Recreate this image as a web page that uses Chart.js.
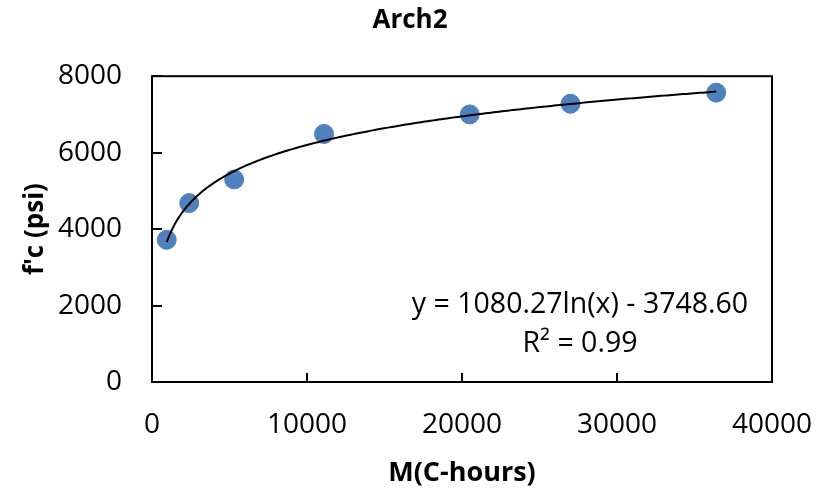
<!DOCTYPE html>
<html>
<head>
<meta charset="utf-8">
<script src="https://cdn.jsdelivr.net/npm/chart.js@4.4.1/dist/chart.umd.min.js"></script>
<style>
  html, body { margin: 0; padding: 0; background: #fff; }
  #wrap { width: 831px; height: 491px; }
</style>
</head>
<body>
<div id="wrap"><canvas id="maturityChart"></canvas></div>
<script>
// maturity (C-hours) vs compressive strength f'c (psi)
const mHours = [950, 2400, 5300, 11100, 20500, 27000, 36400];
const fcPsi = [3720, 4680, 5300, 6490, 7000, 7280, 7570];

// logarithmic fit: y = a ln(x) + b
const fitA = 1080.27;
const fitB = -3748.60;
const fitR2 = 0.99;

const xTicks = [0, 10000, 20000, 30000, 40000];
const yTicks = [0, 2000, 4000, 6000, 8000];

const FONT = "'Open Sans', 'Liberation Sans', sans-serif";

// curve through the fitted equation, over the measured range
const fitPts = [];
const x0 = mHours[0], x1 = mHours[mHours.length - 1];
for (let i = 0; i <= 200; i++) {
  const x = x0 + (x1 - x0) * i / 200;
  fitPts.push({ x: x, y: fitA * Math.log(x) + fitB });
}

const framePlugin = {
  id: 'frame',
  afterLayout(chart) {
    // nudge the title so it sits over the middle of the page
    if (chart.titleBlock) chart.titleBlock.left = 48;
  },
  afterDraw(chart) {
    const { ctx, chartArea: a, scales } = chart;
    ctx.save();
    ctx.strokeStyle = '#000';
    ctx.lineWidth = 2;
    ctx.strokeRect(a.left, a.top, a.right - a.left, a.bottom - a.top);
    // inward tick marks
    ctx.beginPath();
    yTicks.forEach(v => {
      const py = Math.round(scales.y.getPixelForValue(v));
      ctx.moveTo(a.left, py);
      ctx.lineTo(a.left + 10, py);
    });
    xTicks.forEach(v => {
      const px = Math.round(scales.x.getPixelForValue(v));
      ctx.moveTo(px, a.bottom);
      ctx.lineTo(px, a.bottom - 9);
    });
    ctx.stroke();

    // trendline equation
    ctx.fillStyle = '#000';
    ctx.font = '28.5px ' + FONT;
    ctx.textAlign = 'center';
    ctx.textBaseline = 'alphabetic';
    const cx = a.right - 192;
    const sign = fitB < 0 ? ' - ' : ' + ';
    ctx.fillText('y = ' + fitA.toFixed(2) + 'ln(x)' + sign + Math.abs(fitB).toFixed(2), cx, a.bottom - 69);
    ctx.fillText('R\u00B2 = ' + fitR2.toFixed(2), cx, a.bottom - 30);
    ctx.restore();
  }
};

new Chart(document.getElementById('maturityChart'), {
  type: 'scatter',
  data: {
    datasets: [{
      label: 'Arch2',
      data: mHours.map((x, i) => ({ x: x, y: fcPsi[i] })),
      backgroundColor: '#4F81BD',
      borderColor: '#4F81BD',
      pointRadius: 9.5,
      pointHoverRadius: 9.5,
      order: 2
    }, {
      label: 'Log fit',
      type: 'line',
      data: fitPts,
      borderColor: '#000',
      borderWidth: 2,
      pointRadius: 0,
      fill: false,
      order: 1
    }]
  },
  options: {
    responsive: true,
    maintainAspectRatio: false,
    animation: false,
    events: [],
    layout: { padding: { left: 0, right: 59, top: 0, bottom: 0 } },
    plugins: {
      legend: { display: false },
      tooltip: { enabled: false },
      title: {
        display: true,
        text: 'Arch2',
        color: '#000',
        font: { family: FONT, size: 26, weight: 'bold', lineHeight: 1.2 },
        padding: { top: 5, bottom: 40 }
      }
    },
    scales: {
      x: {
        type: 'linear',
        min: 0,
        max: 40000,
        afterFit(s) {
          s.height = 109;
          s.paddingLeft = 0;
          s.paddingRight = 0;
        },
        afterBuildTicks(s) { s.ticks = xTicks.map(v => ({ value: v })); },
        ticks: {
          color: '#000',
          padding: 26,
          maxRotation: 0,
          font: { family: FONT, size: 28 },
          callback: v => String(v)
        },
        grid: { display: false, drawTicks: false },
        border: { display: false },
        title: {
          display: true,
          text: 'M(C-hours)',
          color: '#000',
          font: { family: FONT, size: 27, weight: 'bold', lineHeight: 1.2 },
          padding: { top: 0, bottom: 1 }
        }
      },
      y: {
        type: 'linear',
        min: 0,
        max: 8000,
        afterFit(s) {
          s.width = 152;
          s.paddingTop = 0;
          s.paddingBottom = 0;
        },
        afterBuildTicks(s) { s.ticks = yTicks.map(v => ({ value: v })); },
        ticks: {
          color: '#000',
          padding: 30,
          font: { family: FONT, size: 28 },
          callback: v => String(v)
        },
        grid: { display: false, drawTicks: false },
        border: { display: false },
        title: {
          display: true,
          text: "f'c (psi)",
          color: '#000',
          font: { family: FONT, size: 26, weight: 'bold', lineHeight: 1.2 },
          padding: { top: 20, bottom: 0 }
        }
      }
    }
  },
  plugins: [framePlugin]
});
</script>
</body>
</html>
